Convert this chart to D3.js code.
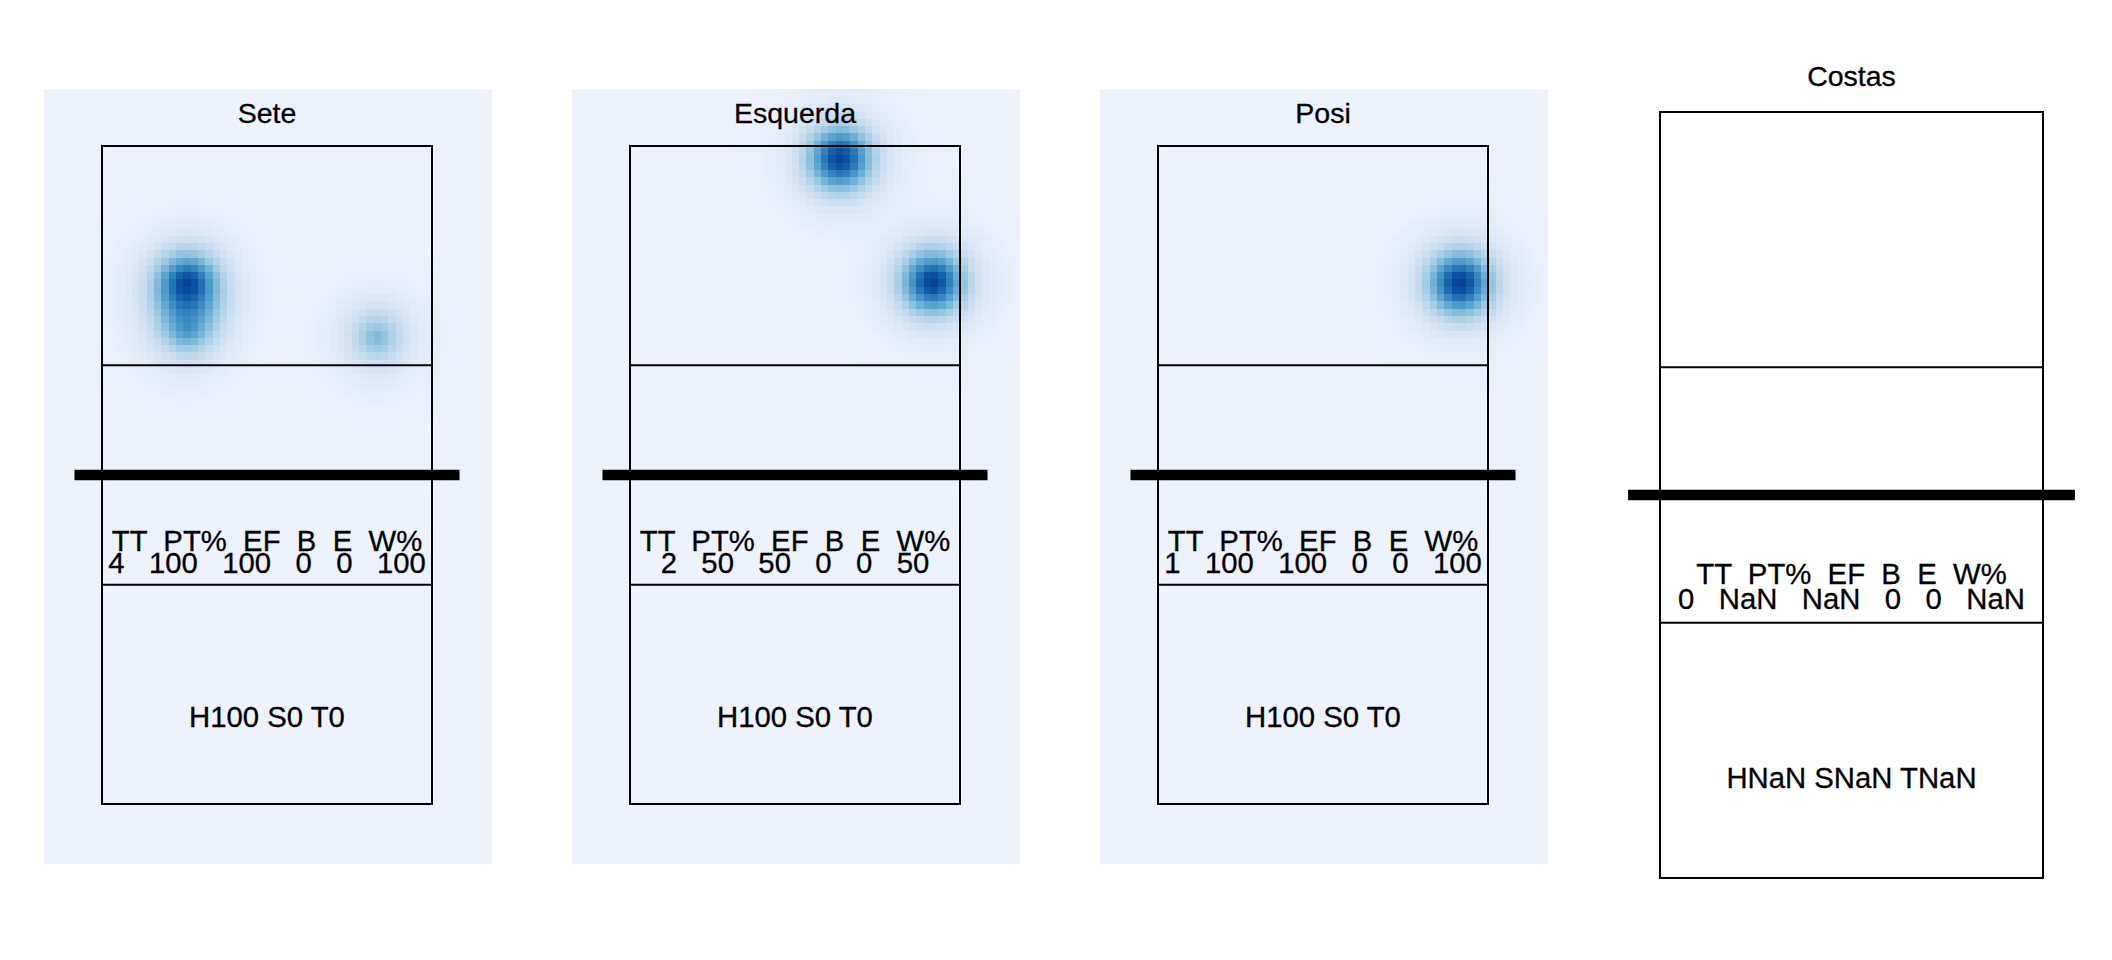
<!DOCTYPE html>
<html><head><meta charset="utf-8">
<script src="https://cdn.jsdelivr.net/npm/d3@7"></script>
<style>body{margin:0;background:#fff} svg{display:block}</style>
</head><body>
<script>
// ---------------- data ----------------
const players = ["Sete", "Esquerda", "Posi", "Costas"];
const statLabels = ["TT", "PT%", "EF", "B", "E", "W%"];
const TT = [4, 2, 1, 0];
const PT = [100, 50, 100, NaN];
const EF = [100, 50, 100, NaN];
const B  = [0, 0, 0, 0];
const E  = [0, 0, 0, 0];
const W  = [100, 50, 100, NaN];
const Hp = [100, 100, 100, NaN];
const Sp = [0, 0, 0, NaN];
const Tp = [0, 0, 0, NaN];
// attack end points, court metres (x: 0-9 across, y: 0-18 along, net at 9)
const attackX = [[2.32, 2.32, 2.32, 7.50], [5.73, 8.26], [8.24], []];
const attackY = [[14.26, 14.26, 12.95, 12.79], [17.67, 14.29], [14.26], []];

// ---------------- layout ----------------
const width = 2112, height = 960;
const svg = d3.select("body").append("svg").attr("width", width).attr("height", height);
const panelStep = 528;
const FONT = "'Liberation Sans', Arial, Helvetica, sans-serif";
const bw = 0.9, kpow = 1.45;   // kernel scale (m) and shape
const nx = 61, ny = 106;       // raster cells

const fillStops = [0, .125, .25, .375, .5, .625, .75, .875, 1];
const fillColors = ["#edf2fd", "#dce8f7", "#c6dbef", "#9ecae1", "#6baed6", "#4292c6", "#2171b5", "#0b559f", "#09409a"];
const color = d3.scaleLinear().domain(fillStops).range(fillColors).clamp(true);

const fmt = v => (isNaN(v) ? "NaN" : String(v));

players.forEach((name, i) => {
  const hasData = attackX[i].length > 0;
  let x, y, raster;
  if (hasData) {
    const off = panelStep * i;
    x = d3.scaleLinear().domain([0, 9]).range([102 + off, 432 + off]);
    y = d3.scaleLinear().domain([0, 18]).range([804, 146]);
    raster = {x0: x.invert(44 + off), x1: x.invert(491 + off), y0: y.invert(863), y1: y.invert(89)};
  } else {
    x = d3.scaleLinear().domain([0, 9]).range([1660, 2043]);
    y = d3.scaleLinear().domain([0, 18]).range([878, 112]);
  }
  const g = svg.append("g");

  // heat raster
  if (hasData) {
    const pts = attackX[i].map((ax, k) => [ax, attackY[i][k]]);
    const dx = (raster.x1 - raster.x0) / nx, dy = (raster.y1 - raster.y0) / ny;
    const cells = [];
    for (let a = 0; a < nx; a++) {
      for (let b = 0; b < ny; b++) {
        const mx = raster.x0 + (a + 0.5) * dx, my = raster.y0 + (b + 0.5) * dy;
        let d = 0;
        pts.forEach(p => {
          const r = Math.hypot(mx - p[0], my - p[1]) / bw;
          d += Math.exp(-Math.pow(r, kpow));
        });
        cells.push({x0: raster.x0 + a * dx, x1: raster.x0 + (a + 1) * dx, y0: raster.y0 + b * dy, y1: raster.y0 + (b + 1) * dy, d});
      }
    }
    const dmax = d3.max(cells, c => c.d);
    g.append("g").attr("shape-rendering", "crispEdges")
      .selectAll("rect").data(cells).join("rect")
      .attr("x", c => x(c.x0)).attr("y", c => y(c.y1))
      .attr("width", c => x(c.x1) - x(c.x0) + 0.6)
      .attr("height", c => y(c.y0) - y(c.y1) + 0.6)
      .attr("fill", c => color(c.d / dmax));
  }

  // court
  const court = g.append("g").attr("stroke", "#000").attr("fill", "none");
  court.append("rect").attr("x", x(0)).attr("y", y(18)).attr("width", x(9) - x(0)).attr("height", y(0) - y(18)).attr("stroke-width", 2);
  [6, 12].forEach(l => court.append("line").attr("x1", x(0)).attr("x2", x(9)).attr("y1", y(l)).attr("y2", y(l)).attr("stroke-width", 2));
  court.append("line").attr("x1", x(-0.75)).attr("x2", x(9.75)).attr("y1", y(9)).attr("y2", y(9)).attr("stroke-width", 10.5);

  // texts
  const t = g.append("g").attr("font-family", FONT).attr("fill", "#000").attr("stroke", "#000").attr("stroke-width", 0.3).attr("text-anchor", "middle");
  t.append("text").attr("x", x(4.5)).attr("y", y(18.62)).attr("font-size", 28.5).text(name);
  t.append("text").attr("x", x(4.5)).attr("y", y(6.92)).attr("font-size", 29.3).style("white-space", "pre")
    .text(statLabels.join("  "));
  t.append("text").attr("x", x(4.5)).attr("y", y(6.32)).attr("font-size", 29.3).style("white-space", "pre")
    .text([TT[i], PT[i], EF[i], B[i], E[i], W[i]].map(fmt).join("   "));
  t.append("text").attr("x", x(4.5)).attr("y", y(2.12)).attr("font-size", 29.3)
    .text(`H${fmt(Hp[i])} S${fmt(Sp[i])} T${fmt(Tp[i])}`);
});
</script>
</body></html>
